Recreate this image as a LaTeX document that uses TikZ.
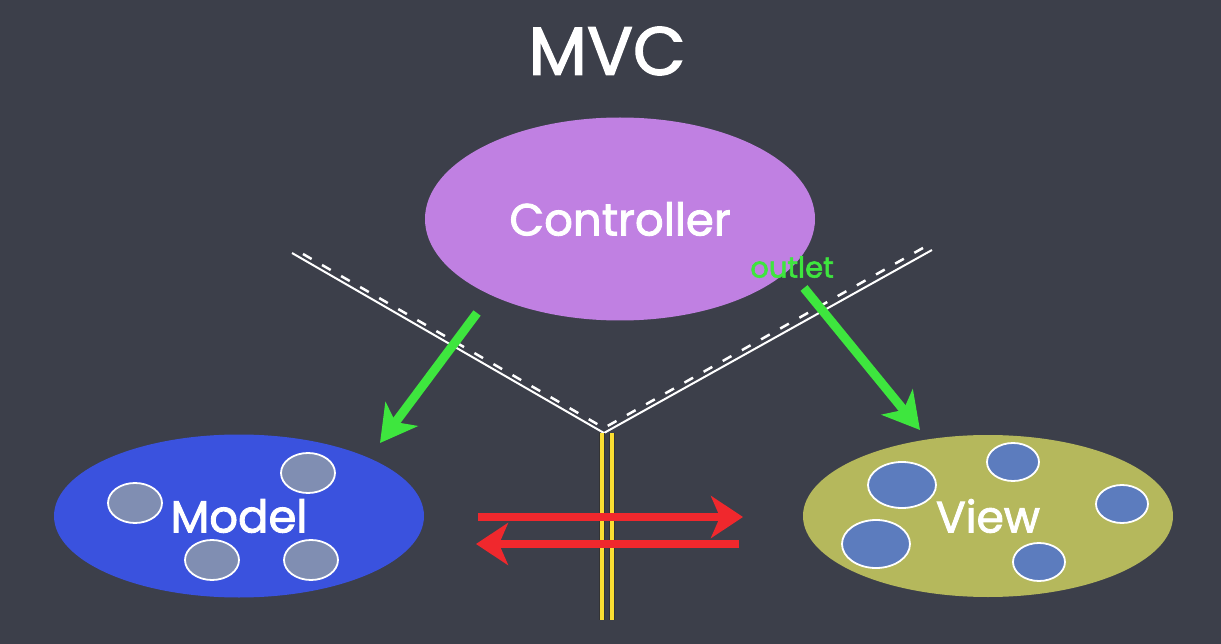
\documentclass[tikz,border=0pt]{standalone}
\usepackage{fontspec}
\setmainfont{Poppins}[FakeBold=2]
\usetikzlibrary{shapes.geometric,arrows.meta}
\definecolor{board}{RGB}{60,63,74}
\definecolor{ctrlc}{RGB}{192,128,226}
\definecolor{modelc}{RGB}{58,82,222}
\definecolor{viewc}{RGB}{181,184,92}
\definecolor{mdot}{RGB}{128,142,178}
\definecolor{vdot}{RGB}{92,124,190}
\definecolor{chalkred}{RGB}{240,40,45}
\definecolor{chalkgreen}{RGB}{62,230,62}
\definecolor{lineyellow}{RGB}{250,222,50}
\tikzset{
  blob/.style={ellipse, inner sep=0pt, text=white},
  dot/.style={ellipse, inner sep=0pt, draw=white, line width=1.8pt},
  redarrow/.style={chalkred, line width=8pt, -{Stealth[length=32pt,width=42pt,inset=9pt]}},
  greenarrow/.style={chalkgreen, line width=9pt, -{Stealth[length=36pt,width=40pt,inset=10pt]}},
  wall/.style={white, line width=2pt},
  wallcut/.style={white, line width=2.5pt, dash pattern=on 10pt off 12pt},
}
\begin{document}
\begin{tikzpicture}[x=1pt,y=-1pt]
\fill[board] (0,0) rectangle (1221,644);
\useasboundingbox (0,0) rectangle (1221,644);

% title
\node[text=white, font=\fontsize{68}{68}\selectfont] (title) at (607,51) {MVC};

% ellipses
\node[blob, fill=ctrlc, minimum width=390pt, minimum height=203pt,
      font=\fontsize{45}{45}\selectfont] (ctrl) at (620,219) {Controller};
\node[blob, fill=modelc, minimum width=370pt, minimum height=163pt,
      font=\fontsize{45}{45}\selectfont] (model) at (239,516) {Model};
\node[blob, fill=viewc, minimum width=370pt, minimum height=162pt,
      font=\fontsize{44}{44}\selectfont] (view) at (988,516) {View};

% model dots
\node[dot, fill=mdot, minimum width=54pt, minimum height=40pt] (m1) at (135,503) {};
\node[dot, fill=mdot, minimum width=54pt, minimum height=40pt] (m2) at (308,473) {};
\node[dot, fill=mdot, minimum width=54pt, minimum height=40pt] (m3) at (212,560) {};
\node[dot, fill=mdot, minimum width=54pt, minimum height=40pt] (m4) at (311,560) {};

% view dots
\node[dot, fill=vdot, minimum width=68pt, minimum height=46pt] (v1) at (902,485) {};
\node[dot, fill=vdot, minimum width=52pt, minimum height=38pt] (v2) at (1013,462) {};
\node[dot, fill=vdot, minimum width=52pt, minimum height=38pt] (v3) at (1122,504) {};
\node[dot, fill=vdot, minimum width=68pt, minimum height=48pt] (v4) at (876,544) {};
\node[dot, fill=vdot, minimum width=52pt, minimum height=38pt] (v5) at (1039,562) {};

% walls
\coordinate (wl) at (292,253);
\coordinate (wv) at (604,433);
\coordinate (wr) at (932,250);
\coordinate (dl) at (303,254);
\coordinate (dv) at (604,428);
\coordinate (dr) at (930,244);
\draw[wall] (wl) -- (wv) -- (wr);
\draw[wallcut] (dl) -- (dv) -- (dr);

% yellow double line
\coordinate (ya1) at (602,433);
\coordinate (yb1) at (602,620);
\coordinate (ya2) at (612,433);
\coordinate (yb2) at (612,620);
\draw[black!80, line width=6pt] (ya1) -- (yb1);
\draw[black!80, line width=6pt] (ya2) -- (yb2);
\draw[lineyellow, line width=4pt] (ya1) -- (yb1);
\draw[lineyellow, line width=4pt] (ya2) -- (yb2);

% red arrows
\coordinate (r1s) at (478,517);
\coordinate (r1e) at (743,517);
\coordinate (r2s) at (739,544);
\coordinate (r2e) at (476,544);
\draw[redarrow] (r1s) -- (r1e);
\draw[redarrow] (r2s) -- (r2e);

% green arrows
\coordinate (g1s) at (477,313);
\coordinate (g1e) at (380,443);
\coordinate (g2s) at (804,288);
\coordinate (g2e) at (920,430);
\draw[greenarrow] (g1s) -- (g1e);
\draw[greenarrow] (g2s) -- (g2e);

\node[text=chalkgreen, font=\fontsize{29}{29}\selectfont] (outlet) at (792,267) {outlet};
\end{tikzpicture}
\end{document}
